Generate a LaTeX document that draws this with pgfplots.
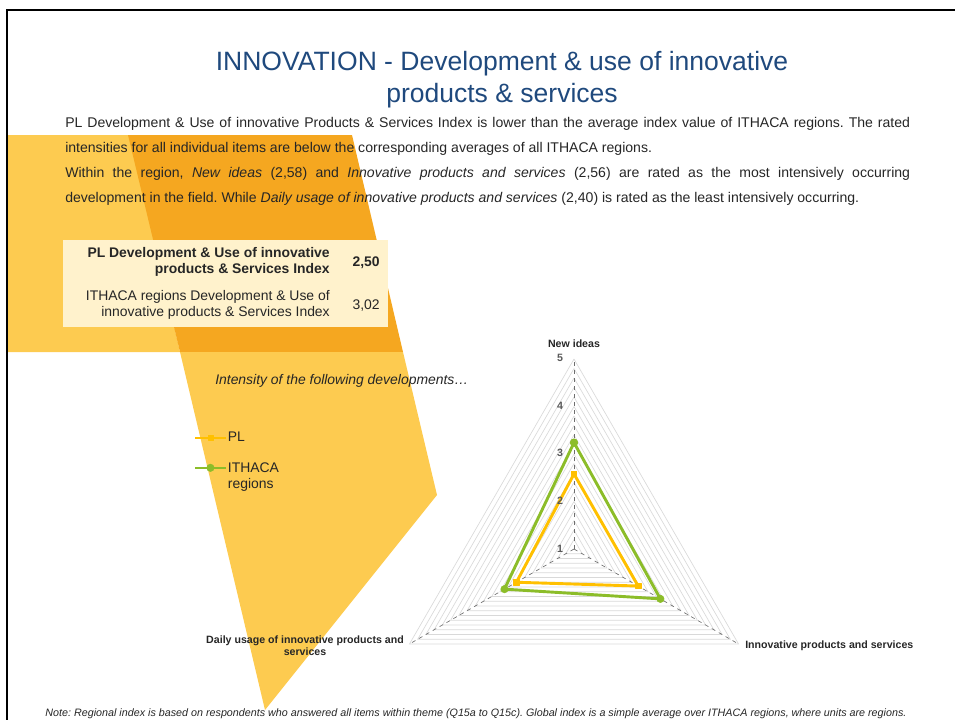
\documentclass[border=0pt]{standalone}
\usepackage{fontspec}
\setmainfont{Liberation Sans}
\usepackage{pgfplots}
\pgfplotsset{compat=1.18}
\usepgfplotslibrary{polar}
\frenchspacing

\definecolor{titleblue}{RGB}{31,73,125}
\definecolor{txt}{RGB}{38,38,38}
\definecolor{lightband}{RGB}{253,203,80}
\definecolor{darkband}{RGB}{245,167,32}
\definecolor{cream}{RGB}{255,242,204}
\definecolor{plyellow}{RGB}{255,192,0}
\definecolor{ithgreen}{RGB}{140,189,41}
\definecolor{gridgray}{RGB}{217,217,217}
\definecolor{spoke}{RGB}{110,110,110}
\definecolor{ticktxt}{RGB}{89,89,89}

\begin{document}
\begin{tikzpicture}[x=0.754pt,y=-0.754pt]
% background shapes
\fill[lightband] (8,135) -- (130,135) -- (180,352) -- (8,352) -- cycle;
\fill[darkband] (128,135) -- (352,135) -- (403,352) -- (180,352) -- cycle;
\fill[lightband] (180,352) -- (403,352) -- (437,495) -- (265,710) -- cycle;
\draw[line width=1.8pt] (7,722) -- (7,10) -- (957,10);

% title
\node[text=titleblue, font=\fontsize{20}{24}\selectfont, anchor=base, inner sep=0pt] at (502,70) {INNOVATION - Development \& use of innovative};
\node[text=titleblue, font=\fontsize{20}{24}\selectfont, anchor=base, inner sep=0pt] at (502,102) {products \& services};

% body text
\begin{scope}[every node/.style={anchor=base west, inner sep=0pt, text=txt, font=\fontsize{10.6}{12}\selectfont}]
\node at (65,127) {\makebox[637pt][s]{PL Development \& Use of innovative Products \& Services Index is lower than the average index value of ITHACA regions. The rated}};
\node at (65,152) {intensities for all individual items are below the corresponding averages of all ITHACA regions.};
\node at (65,177) {\makebox[637pt][s]{Within the region, \textit{New ideas} (2,58) and \textit{Innovative products and services} (2,56) are rated as the most intensively occurring}};
\node at (65,202) {development in the field. While \textit{Daily usage of innovative products and services} (2,40) is rated as the least intensively occurring.};
\end{scope}

% index box
\fill[cream] (63,240) rectangle (388,327);
\node[anchor=east, align=right, inner sep=0pt, text=txt, font=\fontsize{10.5}{12.2}\selectfont\bfseries] at (330,262) {PL Development \& Use of innovative\\products \& Services Index};
\node[anchor=east, inner sep=0pt, text=txt, font=\fontsize{10.5}{12}\selectfont\bfseries] at (380,263) {2,50};
\node[anchor=east, align=right, inner sep=0pt, text=txt, font=\fontsize{10.5}{12.2}\selectfont] at (330,305) {ITHACA regions Development \& Use of\\innovative products \& Services Index};
\node[anchor=east, inner sep=0pt, text=txt, font=\fontsize{10.5}{12}\selectfont] at (380,306) {3,02};

\node[anchor=base west, inner sep=0pt, text=txt, font=\fontsize{10.5}{12}\selectfont\itshape] at (215,384) {Intensity of the following developments…};

\coordinate (C) at (574,549);

% radar chart
\begin{polaraxis}[
  at={(C)}, anchor=center,
  scale only axis, width=286.5pt, height=286.5pt,
  hide axis, clip=false,
  xmin=0, xmax=360, ymin=0, ymax=4,
  y filter/.expression={y-1},
  legend cell align=left,
  legend style={at={(axis description cs:-0.5,0.812)}, anchor=north west,
    draw=none, fill=none, inner sep=0pt, row sep=11.3pt,
    font=\fontsize{10.5}{12}\selectfont, text=txt,
    nodes={inner sep=1pt}},
  legend image code/.code={\draw[mark repeat=2,mark phase=2,#1,line width=1.6pt] plot coordinates {(0cm,0cm) (0.4cm,0cm) (0.8cm,0cm)};},
]
\pgfplotsinvokeforeach{1.2,1.4,1.6,1.8,2,2.2,2.4,2.6,2.8,3,3.2,3.4,3.6,3.8,4,4.2,4.4,4.6,4.8,5}{
  \addplot[gridgray, line width=0.5pt, forget plot] coordinates {(90,#1) (210,#1) (330,#1) (90,#1)};
}
\addplot[spoke, dashed, line width=0.5pt, forget plot] coordinates {(90,1) (90,5)};
\addplot[spoke, dashed, line width=0.5pt, forget plot] coordinates {(210,1) (210,5)};
\addplot[spoke, dashed, line width=0.5pt, forget plot] coordinates {(330,1) (330,5)};

\addplot[plyellow, line width=2.2pt, line join=round, mark=square*, mark size=2pt, mark options={line width=0.4pt}]
  coordinates {(90,2.58) (330,2.56) (210,2.40) (90,2.58)};
\addlegendentry{PL}
\addplot[ithgreen, line width=2.2pt, line join=round, mark=*, mark size=2.8pt, mark options={line width=0.4pt}]
  coordinates {(90,3.24) (330,3.10) (210,2.69) (90,3.24)};
\addlegendentry{\begin{tabular}[t]{@{}l@{}}ITHACA\\regions\end{tabular}}
\end{polaraxis}

% radial tick labels
\begin{scope}[every node/.style={inner sep=0pt, text=ticktxt, font=\fontsize{8}{9}\selectfont\bfseries}]
\node at (560,358) {5};
\node at (560,406) {4};
\node at (560,453) {3};
\node at (560,501) {2};
\node at (560,549) {1};
\end{scope}

% category labels
\begin{scope}[every node/.style={inner sep=0pt, text=txt, font=\fontsize{8}{9.3}\selectfont\bfseries}]
\node at (574,344) {New ideas};
\node[anchor=west] at (745,646) {Innovative products and services};
\node[align=center] at (305,646) {Daily usage of innovative products and\\services};
\end{scope}

% note
\node[anchor=base, inner sep=0pt, text=txt, font=\fontsize{8.1}{10}\selectfont\itshape] at (476,716) {Note: Regional index is based on respondents who answered all items within theme (Q15a to Q15c). Global index is a simple average over ITHACA regions, where units are regions.};

\pgfresetboundingbox
\useasboundingbox (0,0) rectangle (955,720);
\end{tikzpicture}
\end{document}
